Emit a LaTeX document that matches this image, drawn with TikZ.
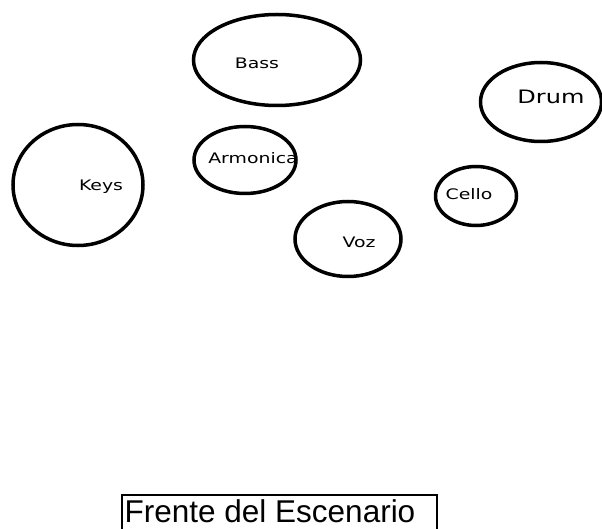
\documentclass[tikz,border=0pt]{standalone}
\usepackage{fontspec}
\setmainfont{Liberation Sans}
\newfontfamily\lblfont{DejaVu Sans}
\usetikzlibrary{shapes.geometric}
\tikzset{
  inst/.style={draw=black, line width=3.5pt, ellipse, inner sep=0pt},
  lbl/.style={inner sep=0pt, font=\lblfont\fontsize{14.5}{14.5}\selectfont},
  biglbl/.style={inner sep=0pt, font=\lblfont\fontsize{18.5}{18.5}\selectfont},
  front/.style={draw=black, line width=1.5pt, inner sep=0pt, minimum width=315pt, minimum height=45pt, text depth=0pt}
}
\newcommand{\wide}[1]{\scalebox{1.3}[1]{#1}}
\begin{document}
\begin{tikzpicture}[x=1pt,y=-1pt]
\useasboundingbox (0,0) rectangle (602,529);
\node[inst, minimum width=167pt, minimum height=91pt] (bass) at (277,60) {};
\node[lbl] (bassT) at (257,63) {\wide{Bass}};
\node[inst, minimum width=130pt, minimum height=121pt] (keys) at (78,185) {};
\node[lbl] (keysT) at (101,187) {\wide{Keys}};
\node[inst, minimum width=102pt, minimum height=67pt] (arm) at (245,160) {};
\node[lbl] (armT) at (253,158) {\wide{Armonica}};
\node[inst, minimum width=121pt, minimum height=79pt] (drum) at (541,102) {};
\node[biglbl] (drumT) at (551,97) {\wide{Drum}};
\node[inst, minimum width=81pt, minimum height=59pt] (cello) at (476,196) {};
\node[lbl] (celloT) at (469,194) {\wide{Cello}};
\node[inst, minimum width=106pt, minimum height=75pt] (voz) at (348,239) {};
\node[lbl] (vozT) at (359,242) {\wide{Voz}};
\node[front, anchor=north west] (frente) at (121,494) {};
\node[anchor=base, inner sep=0pt, font=\fontsize{31.5}{32}\selectfont] (frenteT) at (270,522) {Frente del Escenario};
\end{tikzpicture}
\end{document}
